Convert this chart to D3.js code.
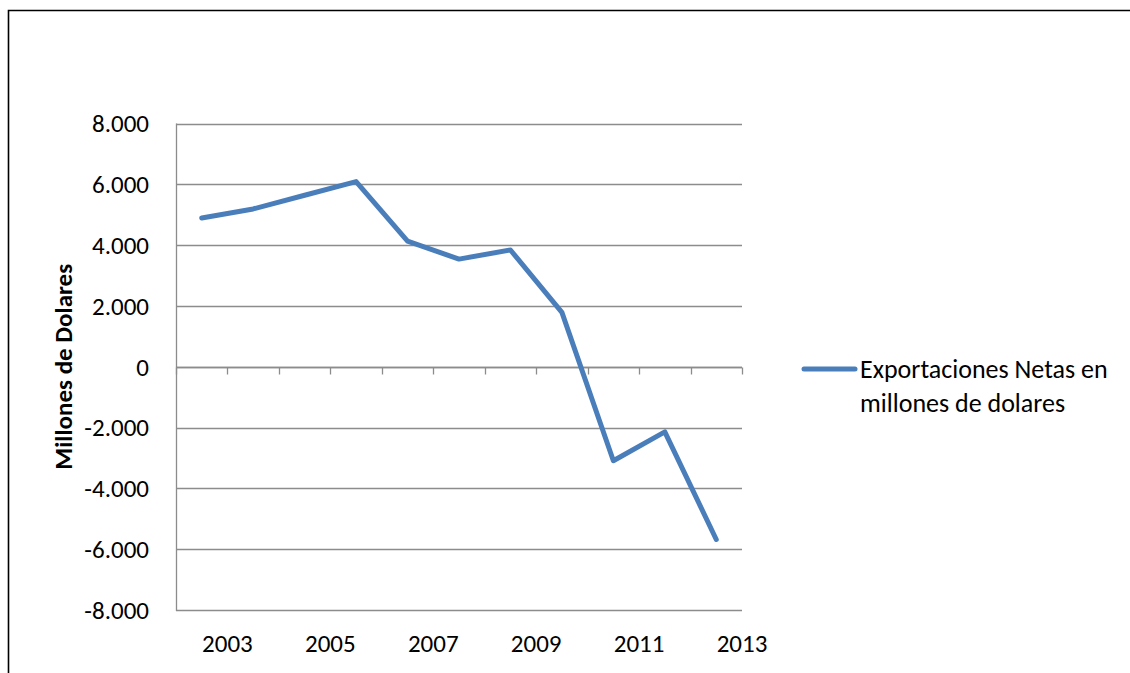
<!DOCTYPE html>
<html>
<head>
<meta charset="utf-8">
<script src="https://cdn.jsdelivr.net/npm/d3@7"></script>
<style>
  html, body { margin: 0; padding: 0; background: #fff; }
  svg { display: block; }
  text { font-family: Carlito, Calibri, Lato, sans-serif; fill: #000; }
</style>
</head>
<body>
<svg id="chart" width="1130" height="673"></svg>
<script>
// ---- data ----
const years = [2002, 2003, 2004, 2005, 2006, 2007, 2008, 2009, 2010, 2011, 2012];
const exportacionesNetas = [4890, 5190, 5640, 6090, 4130, 3540, 3840, 1790, -3090, -2140, -5680];
const yTicks = [-8000, -6000, -4000, -2000, 0, 2000, 4000, 6000, 8000];
const xTickYears = [2002, 2003, 2004, 2005, 2006, 2007, 2008, 2009, 2010, 2011, 2012, 2013];
const xLabelYears = [2003, 2005, 2007, 2009, 2011, 2013];
const seriesName = ["Exportaciones Netas en", "millones de dolares"];
const yTitle = "Millones de Dolares";

// ---- layout ----
const svg = d3.select("#chart");
const plot = { left: 176, right: 742, top: 123.5, bottom: 610 };
const blue = "#4A7EBB";
const grid = "#8c8c8c";

// outer frame (top + left only visible)
svg.append("path")
  .attr("d", "M8.5,680 L8.5,10.5 L1135,10.5")
  .attr("fill", "none").attr("stroke", "#000").attr("stroke-width", 1.6);

const x = d3.scaleLinear().domain([2002, 2013]).range([plot.left, plot.right]);
const y = d3.scaleLinear().domain([-8000, 8000]).range([plot.bottom, plot.top]);

// gridlines
svg.append("g").selectAll("line").data(yTicks).join("line")
  .attr("x1", plot.left).attr("x2", plot.right)
  .attr("y1", d => Math.round(y(d)) + 0.5).attr("y2", d => Math.round(y(d)) + 0.5)
  .attr("stroke", grid).attr("stroke-width", 1.3);

// y axis line
svg.append("line")
  .attr("x1", plot.left + 0.5).attr("x2", plot.left + 0.5)
  .attr("y1", plot.top).attr("y2", plot.bottom + 1)
  .attr("stroke", grid).attr("stroke-width", 1.3);

// y axis labels
const fmt = d => d3.format(",")(d).replace(/,/g, ".").replace("−", "-");
svg.append("g").selectAll("text").data(yTicks).join("text")
  .attr("x", 149).attr("y", d => y(d))
  .attr("dy", "0.35em")
  .attr("text-anchor", "end")
  .attr("font-size", 25)
  .text(d => fmt(d));

// x axis at zero with tick marks
const y0 = Math.round(y(0)) + 0.5;
svg.append("line")
  .attr("x1", plot.left).attr("x2", plot.right)
  .attr("y1", y0).attr("y2", y0)
  .attr("stroke", grid).attr("stroke-width", 1.3);
svg.append("g").selectAll("line").data(xTickYears).join("line")
  .attr("x1", d => Math.round(x(d)) + 0.5).attr("x2", d => Math.round(x(d)) + 0.5)
  .attr("y1", y0).attr("y2", y0 + 7)
  .attr("stroke", grid).attr("stroke-width", 1.3);

// x labels (at bottom)
svg.append("g").selectAll("text").data(xLabelYears).join("text")
  .attr("x", d => x(d)).attr("y", 652)
  .attr("text-anchor", "middle")
  .attr("font-size", 25)
  .text(d => d);

// y title
svg.append("text")
  .attr("transform", `translate(72,${(plot.top + plot.bottom) / 2}) rotate(-90)`)
  .attr("text-anchor", "middle")
  .attr("font-size", 25)
  .attr("font-weight", "bold")
  .text(yTitle);

// line
const line = d3.line().x((d, i) => x(years[i] + 0.5)).y(d => y(d));
svg.append("path")
  .datum(exportacionesNetas)
  .attr("d", line)
  .attr("fill", "none")
  .attr("stroke", blue)
  .attr("stroke-width", 5)
  .attr("stroke-linejoin", "round")
  .attr("stroke-linecap", "round");

// legend
svg.append("line")
  .attr("x1", 804).attr("x2", 855).attr("y1", 369).attr("y2", 369)
  .attr("stroke", blue).attr("stroke-width", 5).attr("stroke-linecap", "round");
svg.append("g").selectAll("text").data(seriesName).join("text")
  .attr("x", 860).attr("y", (d, i) => 378 + i * 34)
  .attr("font-size", 26)
  .text(d => d);
</script>
</body>
</html>
